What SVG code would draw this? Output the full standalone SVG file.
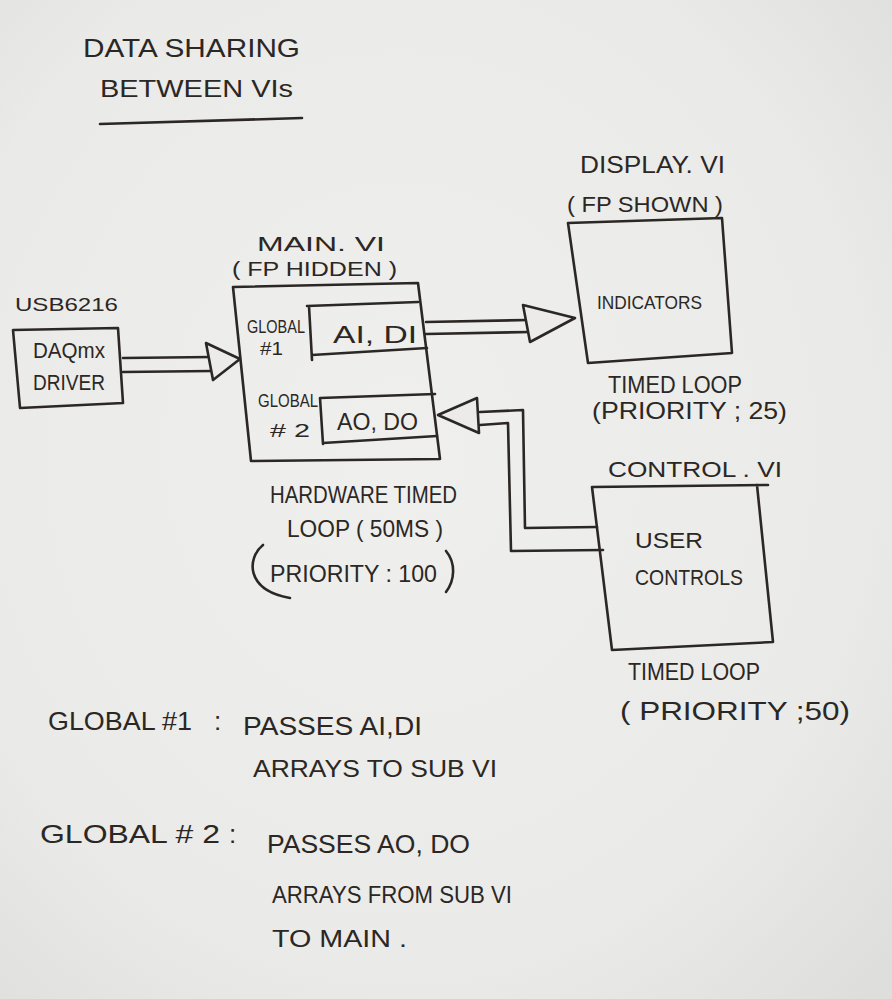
<svg xmlns="http://www.w3.org/2000/svg" width="892" height="999" viewBox="0 0 892 999">
<defs>
<radialGradient id="paper" cx="0.45" cy="0.45" r="0.75">
<stop offset="0" stop-color="#efefed"/>
<stop offset="0.7" stop-color="#eaeae8"/>
<stop offset="1" stop-color="#dededc"/>
</radialGradient>
<style>
.ink{fill:none;stroke:#2b2724;stroke-width:2.6;stroke-linecap:round;stroke-linejoin:round}
.tri{fill:#ecebe9;stroke:#2b2724;stroke-width:2.6;stroke-linejoin:round}
text{font-family:"Liberation Sans","DejaVu Sans",sans-serif;fill:#2b2724;font-weight:normal}
.t18{font-size:18px}
.t20{font-size:20px}
.t22{font-size:22px}
.t24{font-size:24px}
.t26{font-size:26px}
</style>
</defs>
<rect width="892" height="999" fill="url(#paper)"/>

<g id="title">
<text class="t26" x="83" y="57" textLength="217" lengthAdjust="spacingAndGlyphs">DATA  SHARING</text>
<text class="t24" x="100" y="97" textLength="193" lengthAdjust="spacingAndGlyphs">BETWEEN  VIs</text>
<path class="ink" d="M100,124 L302,118"/>
</g>

<g id="daqmx">
<text class="t18" x="15" y="311" textLength="103" lengthAdjust="spacingAndGlyphs">USB6216</text>
<path class="ink" d="M13,330 L118,328 L123,403 L20,408 Z"/>
<text class="t22" x="33" y="358" textLength="72" lengthAdjust="spacingAndGlyphs">DAQmx</text>
<text class="t22" x="33" y="390" textLength="72" lengthAdjust="spacingAndGlyphs">DRIVER</text>
</g>

<g id="main">
<text class="t20" x="257" y="251" textLength="128" lengthAdjust="spacingAndGlyphs">MAIN. VI</text>
<text class="t20" x="232" y="276" textLength="165" lengthAdjust="spacingAndGlyphs">( FP HIDDEN )</text>
<path class="ink" d="M233,287 L418,283 L440,459 L251,461 Z"/>
<g id="global1">
<path class="ink" d="M307,306 L418,302 M309,306 L312,360 M312,355 L427,348"/>
<text class="t18" x="247" y="333" textLength="58" lengthAdjust="spacingAndGlyphs">GLOBAL</text>
<text class="t18" x="260" y="355" textLength="23" lengthAdjust="spacingAndGlyphs">#1</text>
<text class="t24" x="333" y="343" textLength="84" lengthAdjust="spacingAndGlyphs">AI, DI</text>
</g>
<g id="global2">
<path class="ink" d="M320,398 L435,394 M320,398 L323,444 M323,443 L437,436"/>
<text class="t18" x="258" y="407" textLength="60" lengthAdjust="spacingAndGlyphs">GLOBAL</text>
<text class="t18" x="270" y="437" textLength="40" lengthAdjust="spacingAndGlyphs"># 2</text>
<text class="t24" x="337" y="430" textLength="81" lengthAdjust="spacingAndGlyphs">AO, DO</text>
</g>
<text class="t24" x="270" y="503" textLength="187" lengthAdjust="spacingAndGlyphs">HARDWARE TIMED</text>
<text class="t24" x="287" y="537" textLength="156" lengthAdjust="spacingAndGlyphs">LOOP ( 50MS )</text>
<path class="ink" d="M263,545 C247,558 245,590 290,598"/>
<text class="t24" x="270" y="582" textLength="167" lengthAdjust="spacingAndGlyphs">PRIORITY : 100</text>
<path class="ink" d="M446,551 C456,563 455,580 446,592"/>
</g>

<g id="display">
<text class="t24" x="580" y="173" textLength="145" lengthAdjust="spacingAndGlyphs">DISPLAY. VI</text>
<text class="t22" x="567" y="212" textLength="156" lengthAdjust="spacingAndGlyphs">( FP SHOWN )</text>
<path class="ink" d="M568,223 L722,218 L732,353 L588,363 Z"/>
<text class="t18" x="597" y="309" textLength="105" lengthAdjust="spacingAndGlyphs">INDICATORS</text>
<text class="t24" x="608" y="393" textLength="134" lengthAdjust="spacingAndGlyphs">TIMED LOOP</text>
<text class="t24" x="592" y="419" textLength="195" lengthAdjust="spacingAndGlyphs">(PRIORITY ; 25)</text>
</g>

<g id="control">
<text class="t22" x="608" y="477" textLength="174" lengthAdjust="spacingAndGlyphs">CONTROL . VI</text>
<path class="ink" d="M592,487 L768,485 M757,485 L773,642 L612,650 L592,487"/>
<text class="t22" x="635" y="548" textLength="68" lengthAdjust="spacingAndGlyphs">USER</text>
<text class="t22" x="635" y="585" textLength="108" lengthAdjust="spacingAndGlyphs">CONTROLS</text>
<text class="t24" x="628" y="680" textLength="132" lengthAdjust="spacingAndGlyphs">TIMED LOOP</text>
<text class="t26" x="620" y="720" textLength="230" lengthAdjust="spacingAndGlyphs">( PRIORITY ;50)</text>
</g>

<g id="connectors">
<path class="ink" d="M123,358 L212,357 M123,372 L212,371"/>
<path class="tri" d="M206,343 L240,359 L213,380 Z"/>
<path class="ink" d="M426,322 L528,320 M426,334 L530,332"/>
<path class="tri" d="M523,305 L575,318 L530,342 Z"/>
<path class="ink" d="M480,412 L523,410 L525,528 L597,527 M480,425 L508,423 L511,551 L603,550"/>
<path class="tri" d="M477,398 L438,415 L479,433 Z"/>
</g>

<g id="notes">
<text class="t26" x="48" y="730" textLength="144" lengthAdjust="spacingAndGlyphs">GLOBAL #1</text>
<text class="t26" x="214" y="730">:</text>
<text class="t26" x="243" y="735" textLength="179" lengthAdjust="spacingAndGlyphs">PASSES AI,DI</text>
<text class="t24" x="253" y="777" textLength="244" lengthAdjust="spacingAndGlyphs">ARRAYS  TO  SUB VI</text>
<text class="t26" x="40" y="843" textLength="180" lengthAdjust="spacingAndGlyphs">GLOBAL # 2</text>
<text class="t26" x="229" y="843">:</text>
<text class="t26" x="267" y="853" textLength="203" lengthAdjust="spacingAndGlyphs">PASSES AO, DO</text>
<text class="t24" x="272" y="903" textLength="240" lengthAdjust="spacingAndGlyphs">ARRAYS FROM SUB VI</text>
<text class="t24" x="272" y="947" textLength="135" lengthAdjust="spacingAndGlyphs">TO MAIN .</text>
</g>
</svg>
